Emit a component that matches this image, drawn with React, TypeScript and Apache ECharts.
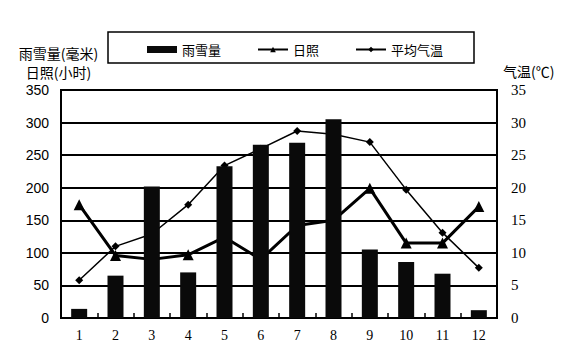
import React, { useEffect, useRef } from "react";
import * as echarts from "echarts";

const months = ["1", "2", "3", "4", "5", "6", "7", "8", "9", "10", "11", "12"];
const rainfall = [14, 65, 202, 70, 233, 266, 269, 305, 105, 86, 68, 12];
const sunshine = [174, 96, 90, 97, 124, 90, 142, 150, 199, 115, 115, 171];
const temperature = [5.8, 11.0, 12.9, 17.4, 23.4, 26.0, 28.7, 28.2, 27.0, 19.7, 13.1, 7.7];

const SANS = "'Liberation Sans', Arial, sans-serif";
const SERIF = "'Liberation Serif', 'Times New Roman', serif";
const CJK = "'Noto Sans CJK SC', sans-serif";

export default function App() {
  const ref = useRef<HTMLDivElement>(null);
  useEffect(() => {
    document.body.style.margin = "0";
    const chart = echarts.init(ref.current!, null, { renderer: "svg" });
    chart.setOption({
      animation: false,
      backgroundColor: "#fff",
      grid: {
        left: 61,
        right: 78,
        top: 90,
        bottom: 40,
        show: true,
        borderColor: "#000",
        borderWidth: 2,
      },
      graphic: [
        {
          type: "rect",
          shape: { x: 108, y: 32, width: 366, height: 31 },
          style: { fill: "none", stroke: "#000", lineWidth: 1.5 },
          z: 0,
        },
      ],
      legend: {
        left: 142,
        top: 38,
        itemWidth: 30,
        itemHeight: 7,
        itemGap: 36,
        textStyle: { fontFamily: CJK, fontSize: 13, color: "#000" },
        data: [
          { name: "雨雪量", icon: "rect" },
          { name: "日照" },
          { name: "平均气温" },
        ],
      },
      xAxis: {
        type: "category",
        data: months,
        boundaryGap: true,
        axisLine: { show: true, lineStyle: { color: "#000", width: 2 } },
        axisTick: { show: true, inside: true, length: 5, lineStyle: { color: "#000", width: 1.5 } },
        axisLabel: { fontFamily: SERIF, fontSize: 14, color: "#000", margin: 10 },
      },
      yAxis: [
        {
          type: "value",
          min: 0,
          max: 350,
          interval: 50,
          name: "雨雪量(毫米)\n日照(小时)",
          nameLocation: "end",
          nameGap: 9,
          nameTextStyle: {
            fontFamily: CJK,
            fontSize: 14,
            color: "#000",
            lineHeight: 19,
            align: "center",
            verticalAlign: "bottom",
            padding: [0, 5, 0, 0],
          },
          axisLine: { show: true, lineStyle: { color: "#000", width: 2 } },
          axisTick: { show: false },
          axisLabel: { fontFamily: SANS, fontSize: 14, color: "#000", margin: 12 },
          splitLine: { show: true, lineStyle: { color: "#000", width: 2 } },
        },
        {
          type: "value",
          min: 0,
          max: 35,
          interval: 5,
          name: "气温(℃)",
          nameLocation: "end",
          nameGap: 12,
          nameTextStyle: {
            fontFamily: CJK,
            fontSize: 14,
            color: "#000",
            align: "left",
            verticalAlign: "bottom",
            padding: [0, 0, 0, 6],
          },
          axisLine: { show: true, lineStyle: { color: "#000", width: 2 } },
          axisTick: { show: false },
          axisLabel: { fontFamily: SERIF, fontSize: 15, color: "#000", margin: 14 },
          splitLine: { show: false },
        },
      ],
      series: [
        {
          name: "日照",
          type: "line",
          yAxisIndex: 0,
          data: sunshine,
          z: 2,
          symbol: "triangle",
          symbolSize: 11,
          lineStyle: { color: "#000", width: 3 },
          itemStyle: { color: "#000" },
        },
        {
          name: "平均气温",
          type: "line",
          yAxisIndex: 1,
          data: temperature,
          z: 2,
          symbol: "diamond",
          symbolSize: 8,
          lineStyle: { color: "#000", width: 1.5 },
          itemStyle: { color: "#000" },
        },
        {
          name: "雨雪量",
          type: "bar",
          yAxisIndex: 0,
          data: rainfall,
          z: 5,
          barWidth: 16,
          itemStyle: { color: "#0a0a0a" },
        },
      ],
    });
    return () => chart.dispose();
  }, []);
  return <div ref={ref} style={{ width: 575, height: 358 }} />;
}
